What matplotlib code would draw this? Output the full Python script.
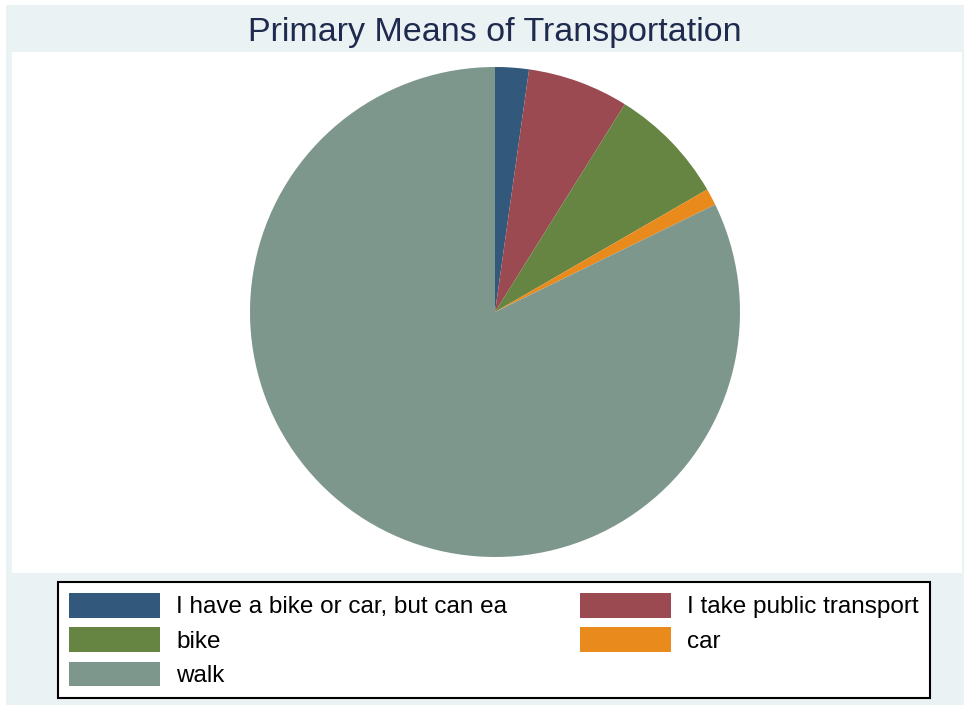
import matplotlib.pyplot as plt
from matplotlib.patches import Rectangle

plt.rcParams['font.family'] = ['Liberation Sans', 'DejaVu Sans']

labels = ["I have a bike or car, but can ea", "I take public transport", "bike", "car", "walk"]
counts = [2, 6, 7, 1, 74]
colors = ["#32587B", "#9A4A50", "#668442", "#E88B1C", "#7E978C"]

W, H = 964, 705
fig = plt.figure(figsize=(W / 100, H / 100), dpi=100, facecolor="white")

def box(x0, y0, x1, y1, **kw):
    # pixel box (top-left origin) -> figure coords
    return Rectangle((x0 / W, 1 - y1 / H), (x1 - x0) / W, (y1 - y0) / H,
                     transform=fig.transFigure, **kw)

fig.patches.append(box(6, 5, 964, 705, facecolor="#EAF2F3", edgecolor="none", zorder=-2))
fig.patches.append(box(12, 52, 962, 573, facecolor="white", edgecolor="none", zorder=-1))

fig.text(495 / W, 1 - 32 / H, "Primary Means of Transportation", ha="center", va="center",
         fontsize=24.5, color="#1E2A4E")

# pie: centre (495, 312), radius 245 px
ax = fig.add_axes([250 / W, 1 - 557 / H, 490 / W, 490 / H])
wedges, _ = ax.pie(counts, colors=colors, startangle=90, counterclock=False, radius=1,
                   wedgeprops=dict(linewidth=0))
ax.set_xlim(-1, 1)
ax.set_ylim(-1, 1)
ax.axis("off")

order = [0, 2, 4, 1, 3]
leg = fig.legend([wedges[i] for i in order], [labels[i] for i in order], ncol=2,
                 loc="center", bbox_to_anchor=(494 / W, 1 - 640 / H),
                 fontsize=17.5, frameon=True, fancybox=False, edgecolor="black",
                 framealpha=1, handlelength=3.75, handleheight=1.2, handletextpad=0.65,
                 columnspacing=3.0, labelspacing=0.36, borderpad=0.45)
leg.get_frame().set_linewidth(1.5)
leg.get_frame().set_facecolor("white")

fig.savefig("out.png", dpi=100, facecolor="white")
